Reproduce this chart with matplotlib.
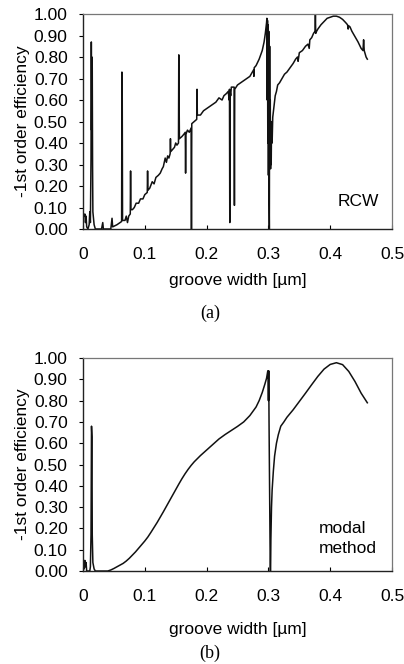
import matplotlib
matplotlib.use("Agg")
import matplotlib.pyplot as plt

# panel (a): RCW result (spikes included as points)
x_rcw = [0.000, 0.0005, 0.002, 0.003, 0.004, 0.005, 0.006, 0.008, 0.010, 0.011,
         0.012, 0.013, 0.0135, 0.014, 0.0145, 0.015, 0.0155, 0.016, 0.018, 0.020,
         0.030, 0.032, 0.033, 0.045, 0.047, 0.048, 0.055, 0.060, 0.0625, 0.063,
         0.0635, 0.064, 0.068, 0.070, 0.072, 0.074, 0.0765, 0.077, 0.0775, 0.080,
         0.083, 0.086, 0.090, 0.093, 0.097, 0.100, 0.104, 0.1045, 0.105, 0.108,
         0.112, 0.115, 0.118, 0.122, 0.125, 0.128, 0.130, 0.133, 0.135, 0.137,
         0.139, 0.141, 0.1415, 0.142, 0.145, 0.148, 0.150, 0.152, 0.1545, 0.155,
         0.1555, 0.156, 0.160, 0.163, 0.1655, 0.166, 0.1665, 0.169, 0.172, 0.175,
         0.1755, 0.176, 0.180, 0.184, 0.1845, 0.185, 0.190, 0.195, 0.200, 0.205,
         0.210, 0.215, 0.220, 0.225, 0.228, 0.232, 0.235, 0.2365, 0.237, 0.2375,
         0.238, 0.239, 0.240, 0.2445, 0.245, 0.2455, 0.250, 0.255, 0.260, 0.265,
         0.270, 0.274, 0.276, 0.2765, 0.277, 0.280, 0.285, 0.290, 0.293, 0.295,
         0.297, 0.2975, 0.298, 0.2985, 0.299, 0.2995, 0.300, 0.3005, 0.301, 0.3015,
         0.302, 0.3025, 0.303, 0.3035, 0.304, 0.3045, 0.305, 0.306, 0.307, 0.309,
         0.311, 0.313, 0.315, 0.318, 0.322, 0.326, 0.330, 0.335, 0.340, 0.344,
         0.347, 0.348, 0.350, 0.355, 0.360, 0.364, 0.366, 0.367, 0.370, 0.373,
         0.3755, 0.376, 0.3765, 0.378, 0.380, 0.385, 0.390, 0.395, 0.400, 0.405,
         0.410, 0.415, 0.420, 0.425, 0.428, 0.429, 0.430, 0.432, 0.435, 0.440,
         0.445, 0.450, 0.453, 0.454, 0.455, 0.458, 0.460]
y_rcw = [0.00, 0.07, 0.06, 0.07, 0.03, 0.06, 0.01, 0.00, 0.02, 0.08,
         0.03, 0.33, 0.87, 0.46, 0.80, 0.75, 0.30, 0.08, 0.02, 0.00,
         0.00, 0.03, 0.00, 0.00, 0.05, 0.01, 0.02, 0.03, 0.035, 0.73,
         0.62, 0.04, 0.04, 0.06, 0.03, 0.06, 0.07, 0.27, 0.09, 0.09,
         0.10, 0.12, 0.12, 0.14, 0.14, 0.16, 0.17, 0.27, 0.18, 0.19,
         0.22, 0.21, 0.24, 0.25, 0.26, 0.28, 0.29, 0.33, 0.31, 0.34,
         0.33, 0.35, 0.42, 0.36, 0.37, 0.38, 0.40, 0.39, 0.40, 0.81,
         0.60, 0.42, 0.43, 0.44, 0.45, 0.26, 0.44, 0.46, 0.45, 0.47,
         0.00, 0.49, 0.50, 0.51, 0.65, 0.53, 0.53, 0.55, 0.56, 0.57,
         0.58, 0.59, 0.61, 0.60, 0.62, 0.63, 0.64, 0.60, 0.65, 0.03,
         0.64, 0.62, 0.66, 0.66, 0.11, 0.65, 0.67, 0.68, 0.69, 0.70,
         0.71, 0.73, 0.74, 0.71, 0.75, 0.76, 0.79, 0.83, 0.87, 0.91,
         0.96, 0.98, 0.60, 0.97, 0.40, 0.95, 0.25, 0.92, 0.18, 0.00,
         0.85, 0.30, 0.60, 0.28, 0.50, 0.30, 0.46, 0.40, 0.52, 0.57,
         0.62, 0.64, 0.67, 0.68, 0.70, 0.72, 0.73, 0.75, 0.77, 0.79,
         0.80, 0.78, 0.82, 0.83, 0.85, 0.86, 0.84, 0.88, 0.89, 0.91,
         0.92, 1.00, 0.91, 0.92, 0.93, 0.95, 0.965, 0.98, 0.985, 0.99,
         0.99, 0.985, 0.975, 0.96, 0.95, 0.93, 0.945, 0.94, 0.92, 0.895,
         0.87, 0.84, 0.83, 0.88, 0.83, 0.80, 0.79]

# panel (b): modal method
x_modal = [0.000, 0.001, 0.002, 0.003, 0.004, 0.005, 0.006, 0.011, 0.012, 0.013,
           0.0138, 0.0145, 0.015, 0.016, 0.018, 0.020, 0.040, 0.045, 0.050, 0.055,
           0.060, 0.065, 0.070, 0.075, 0.080, 0.085, 0.090, 0.095, 0.100, 0.105,
           0.110, 0.115, 0.120, 0.125, 0.130, 0.135, 0.140, 0.145, 0.150, 0.155,
           0.160, 0.165, 0.170, 0.175, 0.180, 0.190, 0.200, 0.210, 0.220, 0.230,
           0.240, 0.250, 0.260, 0.270, 0.280, 0.285, 0.290, 0.294, 0.297, 0.299,
           0.2995, 0.300, 0.3005, 0.301, 0.302, 0.303, 0.3035, 0.304, 0.305, 0.306,
           0.308, 0.310, 0.313, 0.316, 0.320, 0.325, 0.330, 0.340, 0.350, 0.360,
           0.370, 0.380, 0.390, 0.400, 0.410, 0.420, 0.430, 0.440, 0.450, 0.460]
y_modal = [0.00, 0.05, 0.01, 0.05, 0.02, 0.04, 0.00, 0.00, 0.02, 0.17,
           0.68, 0.63, 0.17, 0.04, 0.01, 0.00, 0.00, 0.005, 0.012, 0.020,
           0.028, 0.036, 0.047, 0.060, 0.075, 0.090, 0.107, 0.124, 0.141, 0.160,
           0.182, 0.205, 0.228, 0.253, 0.278, 0.304, 0.330, 0.356, 0.382, 0.408,
           0.433, 0.456, 0.477, 0.496, 0.513, 0.542, 0.568, 0.594, 0.620, 0.641,
           0.660, 0.679, 0.700, 0.730, 0.770, 0.800, 0.838, 0.875, 0.905, 0.940,
           0.935, 0.80, 0.94, 0.70, 0.35, 0.00, 0.00, 0.15, 0.30, 0.38,
           0.47, 0.54, 0.60, 0.64, 0.68, 0.70, 0.722, 0.757, 0.796, 0.835,
           0.875, 0.914, 0.948, 0.970, 0.978, 0.969, 0.937, 0.890, 0.835, 0.790]

x_ticks = [0, 0.1, 0.2, 0.3, 0.4, 0.5]
x_ticklabels = ["0", "0.1", "0.2", "0.3", "0.4", "0.5"]
y_ticks = [i / 10 for i in range(11)]
y_ticklabels = ["%.2f" % v for v in y_ticks]

plt.rcParams["font.family"] = ["Liberation Sans", "DejaVu Sans"]

fig = plt.figure(figsize=(4.04, 6.64), dpi=100)
ax_a = fig.add_axes([0.2054, 0.6551, 0.765, 0.3238])
ax_b = fig.add_axes([0.2054, 0.1400, 0.765, 0.3208])


def style(ax, xlabelpad):
    ax.set_xlim(0, 0.5)
    ax.set_ylim(0, 1.0)
    ax.set_xticks(x_ticks)
    ax.set_xticklabels(x_ticklabels)
    ax.set_yticks(y_ticks)
    ax.set_yticklabels(y_ticklabels)
    ax.tick_params(axis="x", direction="in", length=3, width=0.8, pad=13, labelsize=12.5)
    ax.tick_params(axis="y", direction="out", length=3, width=0.8, pad=8, labelsize=12.5)
    for s in ("left", "bottom"):
        ax.spines[s].set_color("#222")
        ax.spines[s].set_linewidth(1.0)
    for s in ("top", "right"):
        ax.spines[s].set_color("#777")
        ax.spines[s].set_linewidth(0.9)
        ax.spines[s].set_linestyle((0, (4, 1)))
    ax.set_xlabel("groove width [µm]", fontsize=12.5, labelpad=xlabelpad)
    ax.set_ylabel("-1st order efficiency", fontsize=12.5, labelpad=3)


ax_a.plot(x_rcw, y_rcw, color="#111", lw=1.1)
style(ax_a, 8)
ax_a.text(0.445, 0.13, "RCW", fontsize=12.5, ha="center", va="center")

ax_b.plot(x_modal, y_modal, color="#111", lw=1.1)
style(ax_b, 13)
ax_b.text(0.382, 0.20, "modal", fontsize=12.5, ha="left", va="center")
ax_b.text(0.382, 0.108, "method", fontsize=12.5, ha="left", va="center")

fig.text(0.52, 1 - 313 / 664, "(a)", family="Liberation Serif", fontsize=13,
         ha="center", va="center")
fig.text(0.52, 1 - 653 / 664, "(b)", family="Liberation Serif", fontsize=13,
         ha="center", va="center")

fig.savefig("out.png", dpi=100)
